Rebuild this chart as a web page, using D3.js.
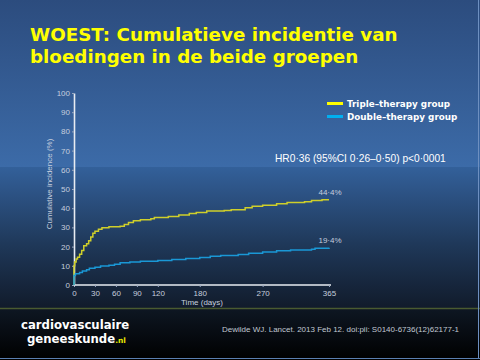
<!DOCTYPE html>
<html><head><meta charset="utf-8">
<script src="https://cdn.jsdelivr.net/npm/d3@7"></script>
<style>html,body{margin:0;padding:0;background:#000;}svg{display:block;}</style>
</head><body>
<script>
const titleLines = ["WOEST: Cumulatieve incidentie van", "bloedingen in de beide groepen"];
const seriesNames = ["Triple\u2013therapy group", "Double\u2013therapy group"];
const tripleDays   = [0,0,1,3,5,8,11,14,18,21,24,27,30,35,40,50,66,72,78,85,95,110,115,135,150,165,175,190,215,225,245,255,270,290,305,330,340,355,365];
const tripleValues = [0,10,12,13.5,14.5,16,18,20.5,21.5,23,25,27,28,29,29.8,30.3,30.6,31.5,32.5,33.5,34,34.5,35.2,35.7,36.5,37.2,37.8,38.5,38.8,39.2,40.2,41,41.5,42.3,43,43.4,44,44.4,44.4];
const doubleDays   = [0,0,2,8,12,18,22,30,38,50,58,66,80,95,120,140,160,180,195,210,235,250,270,290,310,340,345,365];
const doubleValues = [0,5,5.8,6.5,7.3,8,8.7,9.2,9.9,10.3,10.8,11.6,12,12.4,12.8,13.3,13.8,14.3,15,15.4,15.9,16.6,17.2,17.8,18.2,18.6,19.1,19.4];
const xTicks = [0,30,60,90,120,180,270,365];
const yTicks = [0,10,20,30,40,50,60,70,80,90,100];
const endLabels = ["44\u00b74%", "19\u00b74%"];
const endValues = [44.4, 19.4];
const hrText = "HR0\u00b736 (95%CI 0\u00b726\u20130\u00b750) p<0\u00b70001";
const citation = "Dewilde WJ. Lancet. 2013 Feb 12. doi:pii: S0140-6736(12)62177-1";

const W = 480, H = 360;
const svg = d3.select("body").append("svg").attr("width", W).attr("height", H);
const defs = svg.append("defs");
const g1 = defs.append("linearGradient").attr("id","top").attr("x1",0).attr("y1",0).attr("x2",0).attr("y2",1);
g1.append("stop").attr("offset","0%").attr("stop-color","#2c4c7e");
g1.append("stop").attr("offset","100%").attr("stop-color","#3c6ba8");
const g2 = defs.append("linearGradient").attr("id","mid").attr("x1",0).attr("y1",0).attr("x2",0).attr("y2",1);
g2.append("stop").attr("offset","0%").attr("stop-color","#33609a");
g2.append("stop").attr("offset","55%").attr("stop-color","#1f3859");
g2.append("stop").attr("offset","100%").attr("stop-color","#111b2b");
const g3 = defs.append("linearGradient").attr("id","foot").attr("x1",0).attr("y1",0).attr("x2",0).attr("y2",1);
g3.append("stop").attr("offset","0%").attr("stop-color","#0e1723");
g3.append("stop").attr("offset","100%").attr("stop-color","#000000");

svg.append("rect").attr("x",0).attr("y",0).attr("width",W).attr("height",167).attr("fill","url(#top)");
svg.append("rect").attr("x",0).attr("y",167).attr("width",W).attr("height",141).attr("fill","url(#mid)");
svg.append("rect").attr("x",0).attr("y",308).attr("width",W).attr("height",52).attr("fill","url(#foot)");
svg.append("line").attr("x1",0).attr("x2",W).attr("y1",308.5).attr("y2",308.5).attr("stroke","#4a5a30").attr("stroke-width",1.5);
svg.append("line").attr("x1",0).attr("x2",W).attr("y1",358.5).attr("y2",358.5).attr("stroke","#5a7fb0").attr("stroke-width",1);
svg.append("line").attr("x1",478.5).attr("x2",478.5).attr("y1",0).attr("y2",358).attr("stroke","#6d8fc0").attr("stroke-width",1);

// title
svg.selectAll("text.title").data(titleLines).join("text")
  .attr("x",30).attr("y",(d,i)=>41+i*22)
  .attr("fill","#ffff00").attr("font-family","DejaVu Sans").attr("font-weight","bold")
  .attr("font-size",18.3).text(d=>d);

const x = d3.scaleLinear().domain([0,365]).range([74,329]);
const y = d3.scaleLinear().domain([0,100]).range([285,93]);

const axisColor = "#e8ecf2", tickText = "#c5cede";
const xAxis = svg.append("g").attr("transform","translate(0,285)")
  .call(d3.axisBottom(x).tickValues(xTicks).tickSize(2).tickPadding(3).tickSizeOuter(0));
const yAxis = svg.append("g").attr("transform","translate(74,0)")
  .call(d3.axisLeft(y).tickValues(yTicks).tickSize(2).tickPadding(2).tickSizeOuter(0));
[xAxis,yAxis].forEach(a=>{
  a.select(".domain").attr("stroke",axisColor).attr("stroke-width",1.6);
  a.selectAll(".tick line").attr("stroke","#9aa8c0");
  a.selectAll(".tick text").attr("fill",tickText).attr("font-family","Liberation Sans").attr("font-size",8);
});
xAxis.select(".domain").attr("d","M74,0H331");

svg.append("text").attr("x",202).attr("y",305).attr("text-anchor","middle")
  .attr("fill",tickText).attr("font-family","Liberation Sans").attr("font-size",8).text("Time (days)");
svg.append("text").attr("transform","translate(52,184) rotate(-90)").attr("text-anchor","middle")
  .attr("fill",tickText).attr("font-family","Liberation Sans").attr("font-size",8).text("Cumulative incidence (%)");

const line = d3.line().x(d=>x(d[0])).y(d=>y(d[1])).curve(d3.curveStepAfter);
const colors = ["#cfcf2a","#1a98d6"];
const series = [d3.zip(tripleDays,tripleValues), d3.zip(doubleDays,doubleValues)];
svg.selectAll("path.s").data(series).join("path")
  .attr("d",line).attr("fill","none").attr("stroke",(d,i)=>colors[i]).attr("stroke-width",1.5);

svg.selectAll("text.end").data(endLabels).join("text")
  .attr("x",x(365)+1).attr("y",(d,i)=>y(endValues[i])-5).attr("text-anchor","middle")
  .attr("fill",tickText).attr("font-family","Liberation Sans").attr("font-size",8).text(d=>d);

// legend
const legColors = ["#ffff00","#00b0f0"];
seriesNames.forEach((n,i)=>{
  svg.append("rect").attr("x",327).attr("y",102+i*13).attr("width",16).attr("height",3).attr("fill",legColors[i]);
  svg.append("text").attr("x",347).attr("y",107+i*13).attr("fill","#ffffff")
    .attr("font-family","DejaVu Sans").attr("font-weight","bold").attr("font-size",8.8).text(n);
});

svg.append("text").attr("x",275).attr("y",162).attr("fill","#ffffff")
  .attr("font-family","Liberation Sans").attr("font-size",10.2).text(hrText);

// footer
svg.append("text").attr("x",21).attr("y",329).attr("fill","#ffffff")
  .attr("font-family","DejaVu Sans").attr("font-weight","bold").attr("font-size",11.7).text("cardiovasculaire");
const gk = svg.append("text").attr("x",27).attr("y",343).attr("fill","#ffffff")
  .attr("font-family","DejaVu Sans").attr("font-weight","bold").attr("font-size",11.7);
gk.append("tspan").text("geneeskunde");
gk.append("tspan").attr("fill","#e8e800").attr("font-size",7.5).text(".nl");
svg.append("text").attr("x",222).attr("y",332).attr("fill","#c0c8d2")
  .attr("font-family","Liberation Sans").attr("font-size",8).text(citation);
</script>
</body></html>
